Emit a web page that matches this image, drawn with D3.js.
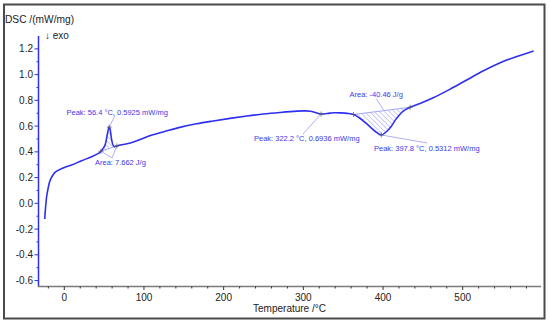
<!DOCTYPE html>
<html><head><meta charset="utf-8">
<script src="https://cdn.jsdelivr.net/npm/d3@7"></script>
<style>body{margin:0;background:#fff}svg{display:block}text{font-family:"Liberation Sans",Arial,sans-serif}</style>
</head><body><svg id="c" width="550" height="324"></svg>
<script>
// ---- data ----
const temps = [-24.5,-24,-23.4,-22.2,-21,-20,-18.5,-16.7,-14,-11.7,-5.4,0.8,9.2,21.7,34.3,44.7,48,51,53.5,55.5,56.4,57.5,59,61,63,66,72,83,95,108,125,145,166,187,208,229,250,271,292,300,309,315,322.2,330,338,347,355,363,370,380,390,397.8,405,410,417,425,434,448,463,485,505,526,547,568,589];
const dsc = [-0.122,-0.07,-0.026,0.051,0.095,0.125,0.165,0.194,0.222,0.241,0.264,0.28,0.298,0.331,0.362,0.395,0.42,0.45,0.52,0.58,0.5925,0.575,0.51,0.455,0.44,0.446,0.455,0.468,0.495,0.527,0.556,0.59,0.618,0.64,0.66,0.678,0.694,0.706,0.716,0.718,0.716,0.705,0.6936,0.698,0.704,0.703,0.699,0.69,0.665,0.615,0.56,0.5312,0.56,0.595,0.66,0.715,0.746,0.78,0.82,0.89,0.958,1.03,1.093,1.14,1.183];
const xTicks = [0,100,200,300,400,500];
const yTicks = [-0.6,-0.4,-0.2,0.0,0.2,0.4,0.6,0.8,1.0,1.2];
const peakLabels = ["Peak: 56.4 °C, 0.5925 mW/mg","Peak: 322.2 °C, 0.6936 mW/mg","Peak: 397.8 °C, 0.5312 mW/mg"];
const peakPts = [[56.4,0.5925],[322.2,0.6936],[397.8,0.5312]];
const areaLabels = ["Area: 7.662 J/g","Area: -40.46 J/g"];
const areaBounds = [[46,66],[363,434]];

const svg = d3.select("#c");
const x = d3.scaleLinear().domain([-33,597]).range([38,540]);
const y = d3.scaleLinear().domain([-0.65,1.3]).range([287,36]);
const data = temps.map((t,i)=>({t,v:dsc[i]}));
const interp = t => {
  for(let i=1;i<data.length;i++){ if(t<=data[i].t){const a=data[i-1],b=data[i];return a.v+(b.v-a.v)*(t-a.t)/(b.t-a.t);} }
  return data[data.length-1].v;
};
const blue = "#2f2ff0", ann = "#3a3ae6", light = "#9a9af2";

// frame
svg.append("rect").attr("x",4).attr("y",4.5).attr("width",540.5).attr("height",314).attr("fill","none").attr("stroke","#4a4a4a").attr("stroke-width",2);

// hatch pattern
const defs = svg.append("defs");
const pat = defs.append("pattern").attr("id","hatch").attr("patternUnits","userSpaceOnUse").attr("width",3.5).attr("height",3.5).attr("patternTransform","rotate(-45)");
pat.append("line").attr("x1",0).attr("y1",0).attr("x2",0).attr("y2",3.5).attr("stroke","#8585ee").attr("stroke-width",0.8);

// areas
areaBounds.forEach(([a,b])=>{
  const seg = data.filter(d=>d.t>a && d.t<b);
  const pts = [{t:a,v:interp(a)},...seg,{t:b,v:interp(b)}];
  const path = d3.line().x(d=>x(d.t)).y(d=>y(d.v)).curve(d3.curveCatmullRom)(pts)+"Z";
  svg.append("path").attr("d",path).attr("fill","url(#hatch)").attr("stroke","none");
  svg.append("line").attr("x1",x(a)).attr("y1",y(interp(a))).attr("x2",x(b)).attr("y2",y(interp(b))).attr("stroke",light).attr("stroke-width",0.9);
});

// y axis
const yAxis = svg.append("g").attr("transform","translate(38.5,0)");
yAxis.append("line").attr("y1",36).attr("y2",287).attr("stroke",blue).attr("stroke-width",1.5);
d3.range(-6,13).forEach(k=>{
  const v=k/10, major = k%2===0;
  yAxis.append("line").attr("x1",major?-4:-2).attr("x2",0).attr("y1",y(v)).attr("y2",y(v)).attr("stroke",blue).attr("stroke-width",1);
});
yTicks.forEach(v=>{
  svg.append("text").attr("x",33).attr("y",y(v)+3.6).attr("text-anchor","end").attr("font-size",10).attr("fill","#222").text(v.toFixed(1));
});

// x axis
const xAxis = svg.append("g").attr("transform","translate(0,286.5)");
xAxis.append("line").attr("x1",38).attr("x2",541).attr("stroke","#7a7a7a").attr("stroke-width",1.5);
d3.range(-20,600,20).forEach(t=>{
  const major = t%100===0;
  xAxis.append("line").attr("x1",x(t)).attr("x2",x(t)).attr("y1",0).attr("y2",major?3.5:2).attr("stroke","#333").attr("stroke-width",1);
});
xTicks.forEach(t=>{
  svg.append("text").attr("x",x(t)).attr("y",300.5).attr("text-anchor","middle").attr("font-size",10).attr("fill","#222").text(t);
});
svg.append("text").attr("x",289.5).attr("y",311.5).attr("text-anchor","middle").attr("font-size",10).attr("fill","#222").text("Temperature /°C");
svg.append("text").attr("x",5).attr("y",23).attr("font-size",10.2).attr("fill","#222").text("DSC /(mW/mg)");
svg.append("text").attr("x",45).attr("y",38.5).attr("font-size",10).attr("fill","#222").text("↓ exo");

// curve
svg.append("path").datum(data).attr("d",d3.line().x(d=>x(d.t)).y(d=>y(d.v)).curve(d3.curveCatmullRom))
  .attr("fill","none").attr("stroke",blue).attr("stroke-width",1.6);

// leader lines & labels
const lead = (x1,y1,x2,y2)=>svg.append("line").attr("x1",x1).attr("y1",y1).attr("x2",x2).attr("y2",y2).attr("stroke",light).attr("stroke-width",0.8);
const lab = (tx,xx,yy)=>svg.append("text").attr("x",xx).attr("y",yy).attr("font-size",7.5).attr("fill",ann).text(tx);

lead(x(peakPts[0][0]),y(peakPts[0][1]),115,115.5);
lab(peakLabels[0],66.5,115);
lead(x(areaBounds[0][0]),y(interp(areaBounds[0][0])),112,158);
lead(x(areaBounds[0][1]),y(interp(areaBounds[0][1])),112,158);
lab(areaLabels[0],95,165);
lead(x(peakPts[1][0]),y(peakPts[1][1]),303,134);
lab(peakLabels[1],254,140.5);
lead(376.5,99,383.5,y((interp(363)+interp(434))/2)-1);
lab(areaLabels[1],349.5,96.5);
lead(x(peakPts[2][0]),y(peakPts[2][1]),427,143);
lab(peakLabels[2],374,150.5);

// cross markers
const crosses = [peakPts[0],[areaBounds[0][0],interp(areaBounds[0][0])],[areaBounds[0][1],interp(areaBounds[0][1])],peakPts[1],[areaBounds[1][0],interp(areaBounds[1][0])],[areaBounds[1][1],interp(areaBounds[1][1])],peakPts[2]];
crosses.forEach(([t,v])=>{
  const cx=x(t), cy=y(v);
  svg.append("path").attr("d",`M${cx-2.5},${cy}H${cx+2.5}M${cx},${cy-2.5}V${cy+2.5}`).attr("stroke","#555").attr("stroke-width",0.7);
});
</script></body></html>
